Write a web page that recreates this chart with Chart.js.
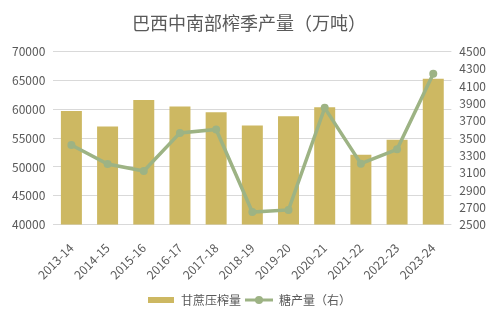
<!DOCTYPE html>
<html lang="zh">
<head>
  <meta charset="UTF-8" />
  <title>巴西中南部榨季产量</title>
  <script src="https://cdn.jsdelivr.net/npm/chart.js"></script>
  <style>
    html, body { margin: 0; padding: 0; background: #fff; }
    .wrap { width: 496px; height: 322px; }
  </style>
</head>
<body>
  <div class="wrap"><canvas id="sugarChart"></canvas></div>
  <script>
    const seasons = ["2013-14", "2014-15", "2015-16", "2016-17", "2017-18", "2018-19",
                     "2019-20", "2020-21", "2021-22", "2022-23", "2023-24"];
    const caneCrushed = [59700, 57000, 61600, 60500, 59500, 57200, 58800, 60350, 52100, 54700, 65300];
    const sugarOutput = [3420, 3200, 3120, 3560, 3600, 2645, 2670, 3850, 3205, 3370, 4245];

    const barColor = "#CDB862";
    const lineColor = "#9DB384";
    const font = "'Noto Sans CJK SC', 'Noto Sans', sans-serif";

    // little legend markers
    function barMark() {
      const c = document.createElement("canvas");
      c.width = 26; c.height = 6;
      const g = c.getContext("2d");
      g.fillStyle = barColor;
      g.fillRect(0, 0, 26, 6);
      return c;
    }
    function lineMark() {
      const c = document.createElement("canvas");
      c.width = 28; c.height = 10;
      const g = c.getContext("2d");
      g.strokeStyle = lineColor;
      g.lineWidth = 3;
      g.beginPath(); g.moveTo(0, 5); g.lineTo(28, 5); g.stroke();
      g.fillStyle = lineColor;
      g.beginPath(); g.arc(14, 5, 4, 0, Math.PI * 2); g.fill();
      return c;
    }

    new Chart(document.getElementById("sugarChart"), {
      data: {
        labels: seasons,
        datasets: [
          {
            type: "bar",
            label: "甘蔗压榨量",
            data: caneCrushed,
            backgroundColor: barColor,
            yAxisID: "y",
            order: 2,
            categoryPercentage: 1,
            barPercentage: 0.58
          },
          {
            type: "line",
            label: "糖产量（右）",
            data: sugarOutput,
            borderColor: lineColor,
            backgroundColor: lineColor,
            borderWidth: 3.5,
            pointRadius: 4,
            pointBackgroundColor: lineColor,
            pointBorderWidth: 0,
            tension: 0,
            yAxisID: "y1",
            order: 1
          }
        ]
      },
      options: {
        responsive: true,
        maintainAspectRatio: false,
        animation: false,
        layout: { padding: { left: 4, right: 2, top: 4, bottom: 6 } },
        scales: {
          x: {
            grid: { display: false },
            border: { display: false },
            ticks: {
              color: "#595959",
              padding: 8,
              font: { family: font, size: 12 },
              minRotation: 45,
              maxRotation: 45
            }
          },
          y: {
            position: "left",
            min: 40000,
            max: 70000,
            border: { display: false },
            grid: { color: "#d9d9d9", drawTicks: false },
            ticks: {
              stepSize: 5000,
              padding: 8,
              color: "#595959",
              font: { family: font, size: 12 },
              callback: v => String(v)
            }
          },
          y1: {
            position: "right",
            min: 2500,
            max: 4500,
            border: { display: false },
            grid: { display: false, drawTicks: false },
            ticks: {
              stepSize: 200,
              autoSkip: false,
              padding: 8,
              color: "#595959",
              font: { family: font, size: 12 },
              callback: v => String(v)
            }
          }
        },
        plugins: {
          title: {
            display: true,
            text: "巴西中南部榨季产量（万吨）",
            color: "#595959",
            font: { family: font, size: 18, weight: "normal" },
            padding: { top: 8, bottom: 18 }
          },
          legend: {
            position: "bottom",
            labels: {
              usePointStyle: true,
              pointStyleWidth: 28,
              color: "#595959",
              font: { family: font, size: 12 },
              padding: 4,
              sort: (a, b) => a.datasetIndex - b.datasetIndex,
              generateLabels: function (chart) {
                const items = Chart.defaults.plugins.legend.labels.generateLabels(chart);
                items.forEach(function (it) {
                  it.pointStyle = it.datasetIndex === 0 ? barMark() : lineMark();
                });
                return items;
              }
            }
          },
          tooltip: { mode: "index", intersect: false }
        }
      }
    });
  </script>
</body>
</html>
